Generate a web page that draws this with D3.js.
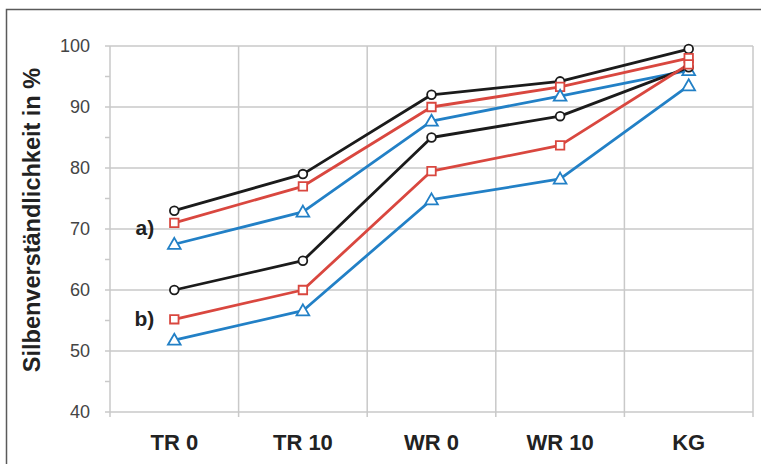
<!DOCTYPE html>
<html>
<head>
<meta charset="utf-8">
<script src="https://cdn.jsdelivr.net/npm/d3@7"></script>
<style>
  html, body { margin: 0; padding: 0; background: #fff; }
  svg { display: block; font-family: "Liberation Sans", Arial, sans-serif; }
</style>
</head>
<body>
<svg id="chart" width="761" height="464"></svg>
<script>
// Test conditions on the x axis
const categories = ["TR 0", "TR 10", "WR 0", "WR 10", "KG"];

// Syllable intelligibility (%) per condition, group a) and group b)
const aBlack = [73.0, 79.0, 92.0, 94.2, 99.5];
const aRed   = [71.0, 77.0, 90.0, 93.3, 98.0];
const aBlue  = [67.5, 72.8, 87.7, 91.8, 96.0];
const bBlack = [60.0, 64.8, 85.0, 88.5, 96.5];
const bRed   = [55.2, 60.0, 79.5, 83.7, 97.0];
const bBlue  = [51.8, 56.6, 74.8, 78.2, 93.5];

const yTicks = [40, 50, 60, 70, 80, 90, 100];
const yMinorTicks = [45, 55, 65, 75, 85, 95];

const groupLabels = [
  { text: "a)", value: 70.2 },
  { text: "b)", value: 55.3 }
];

const series = [
  { values: aBlack, color: "#1b1b1b", marker: "circle" },
  { values: aRed,   color: "#d9473f", marker: "square" },
  { values: aBlue,  color: "#2280c6", marker: "triangle" },
  { values: bBlack, color: "#1b1b1b", marker: "circle" },
  { values: bRed,   color: "#d9473f", marker: "square" },
  { values: bBlue,  color: "#2280c6", marker: "triangle" }
];

const svg = d3.select("#chart");
const margin = { left: 110, right: 8, top: 46, bottom: 52 };
const W = 761, H = 464;

// Outer frame
svg.append("rect")
  .attr("x", 6.5).attr("y", 9.5)
  .attr("width", 800).attr("height", 800)
  .attr("fill", "#fff")
  .attr("stroke", "#5a5a5a").attr("stroke-width", 1.5);

const x = d3.scaleBand()
  .domain(categories)
  .range([margin.left, W - margin.right])
  .paddingInner(0).paddingOuter(0);

const y = d3.scaleLinear()
  .domain([40, 100])
  .range([H - margin.bottom, margin.top]);

const grid = svg.append("g");

// Horizontal grid lines (with short tick stubs left of the axis)
grid.selectAll("line.h")
  .data(yTicks)
  .join("line")
  .attr("x1", margin.left - 5).attr("x2", W - margin.right)
  .attr("y1", d => y(d)).attr("y2", d => y(d))
  .attr("stroke", "#c9c9c9").attr("stroke-width", 1.5);

// Minor tick stubs
grid.selectAll("line.m")
  .data(yMinorTicks)
  .join("line")
  .attr("x1", margin.left - 5).attr("x2", margin.left)
  .attr("y1", d => y(d)).attr("y2", d => y(d))
  .attr("stroke", "#c9c9c9").attr("stroke-width", 1.5);

// Vertical grid lines at category boundaries
const bounds = categories.map(c => x(c)).concat([x(categories[categories.length - 1]) + x.bandwidth()]);
grid.selectAll("line.v")
  .data(bounds)
  .join("line")
  .attr("x1", d => d).attr("x2", d => d)
  .attr("y1", y(100)).attr("y2", y(40) + 5)
  .attr("stroke", "#c9c9c9").attr("stroke-width", 1.5);

// Y tick labels
svg.append("g").selectAll("text")
  .data(yTicks)
  .join("text")
  .attr("x", margin.left - 20)
  .attr("y", d => y(d))
  .attr("dy", "0.36em")
  .attr("text-anchor", "end")
  .attr("font-size", 18)
  .attr("fill", "#444")
  .text(d => d);

// X category labels
svg.append("g").selectAll("text")
  .data(categories)
  .join("text")
  .attr("x", d => x(d) + x.bandwidth() / 2)
  .attr("y", y(40) + 38)
  .attr("text-anchor", "middle")
  .attr("font-size", 22)
  .attr("font-weight", "bold")
  .attr("fill", "#222")
  .text(d => d);

// Y axis title
svg.append("text")
  .attr("transform", `translate(40, ${(y(40) + y(100)) / 2 - 9}) rotate(-90)`)
  .attr("text-anchor", "middle")
  .attr("font-size", 23.5)
  .attr("font-weight", "bold")
  .attr("fill", "#222")
  .text("Silbenverständlichkeit in %");

// Group labels a) and b)
svg.append("g").selectAll("text")
  .data(groupLabels)
  .join("text")
  .attr("x", x(categories[0]) + x.bandwidth() / 2 - 20)
  .attr("y", d => y(d.value))
  .attr("dy", "0.36em")
  .attr("text-anchor", "end")
  .attr("font-size", 21)
  .attr("font-weight", "bold")
  .attr("fill", "#222")
  .text(d => d.text);

const cx = c => x(c) + x.bandwidth() / 2;
const line = d3.line()
  .x((d, i) => cx(categories[i]))
  .y(d => y(d));

const symbolFor = {
  circle: d3.symbol().type(d3.symbolCircle).size(60),
  square: d3.symbol().type(d3.symbolSquare).size(72),
  triangle: d3.symbol().type(d3.symbolTriangle).size(70)
};

const plot = svg.append("g");
series.forEach(s => {
  plot.append("path")
    .datum(s.values)
    .attr("d", line)
    .attr("fill", "none")
    .attr("stroke", s.color)
    .attr("stroke-width", 2.8)
    .attr("stroke-linejoin", "round");
});
series.forEach(s => {
  plot.append("g").selectAll("path")
    .data(s.values)
    .join("path")
    .attr("transform", (d, i) => `translate(${cx(categories[i])},${y(d) + (s.marker === "triangle" ? 1 : 0)})`)
    .attr("d", symbolFor[s.marker])
    .attr("fill", "#fff")
    .attr("stroke", s.color)
    .attr("stroke-width", 1.8);
});
</script>
</body>
</html>
